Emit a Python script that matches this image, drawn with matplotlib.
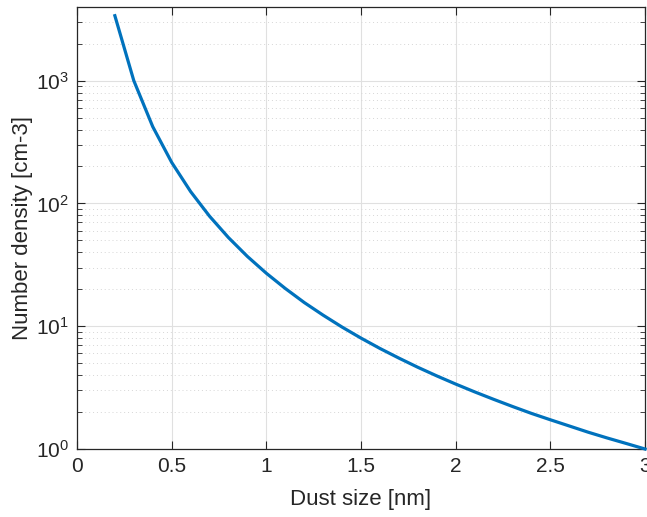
import matplotlib
matplotlib.use("Agg")
import matplotlib.pyplot as plt
from matplotlib.ticker import LogLocator, NullFormatter

# values (dust size vs number density)
dust_size = [0.2, 0.3, 0.4, 0.5, 0.6, 0.7, 0.8, 0.9, 1.0, 1.1, 1.2, 1.3, 1.4, 1.5,
             1.6, 1.7, 1.8, 1.9, 2.0, 2.1, 2.2, 2.3, 2.4, 2.5, 2.6, 2.7, 2.8, 2.9, 3.0]
number_density = [3380, 1000, 422, 216, 125, 78.7, 52.7, 37.0, 27.0, 20.3, 15.6, 12.3,
                  9.84, 8.0, 6.59, 5.50, 4.63, 3.94, 3.38, 2.92, 2.54, 2.22, 1.95,
                  1.73, 1.54, 1.37, 1.23, 1.11, 1.00]
x_ticks = [0, 0.5, 1, 1.5, 2, 2.5, 3]
x_tick_labels = ["0", "0.5", "1", "1.5", "2", "2.5", "3"]

plt.rcParams["font.family"] = ["Liberation Sans", "DejaVu Sans"]
plt.rcParams["mathtext.fontset"] = "custom"
plt.rcParams["mathtext.rm"] = "Liberation Sans"
plt.rcParams["mathtext.it"] = "Liberation Sans"

axcol = (0.15, 0.15, 0.15)
fig = plt.figure(figsize=(6.47, 5.17), dpi=100)
ax = fig.add_axes([0.119, 0.1315, 0.878, 0.855])

ax.plot(dust_size, number_density, color="#0072BD", linewidth=2.3, zorder=3,
        clip_on=False)
ax.set_yscale("log")
ax.set_xlim(0, 3)
ax.set_ylim(1, 3981)
ax.set_xticks(x_ticks)
ax.set_xticklabels(x_tick_labels)
ax.yaxis.set_major_locator(LogLocator(base=10, numticks=10))
ax.yaxis.set_minor_locator(LogLocator(base=10, subs=range(2, 10), numticks=20))
ax.yaxis.set_minor_formatter(NullFormatter())

ax.grid(True, which="major", color=(0.88, 0.88, 0.88), linewidth=0.8, linestyle="-")
ax.grid(True, which="minor", axis="y", color=(0.84, 0.84, 0.84), linewidth=0.7,
        linestyle=(0, (1, 3)))
ax.set_axisbelow(True)

for s in ax.spines.values():
    s.set_color(axcol)
    s.set_linewidth(0.9)
ax.tick_params(which="both", direction="in", top=True, right=True, colors=axcol,
               labelsize=15, labelcolor=axcol)
ax.tick_params(which="major", length=6, pad=6)
ax.tick_params(which="minor", length=3.5)

ax.set_xlabel("Dust size [nm]", fontsize=16, color=axcol, labelpad=9)
ax.set_ylabel("Number density [cm-3]", fontsize=16, color=axcol, labelpad=2)

fig.savefig("out.png", dpi=100)
